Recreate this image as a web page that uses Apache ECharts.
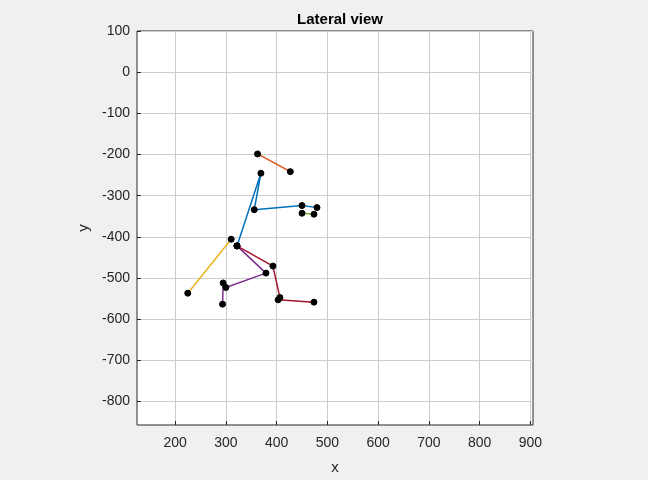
<!DOCTYPE html>
<html>
<head>
<meta charset="utf-8">
<script src="https://cdn.jsdelivr.net/npm/echarts@6/dist/echarts.min.js"></script>
<style>html,body{margin:0;padding:0;background:#F0F0F0;}#c{width:648px;height:480px;}</style>
</head>
<body>
<div id="c"></div>
<script>
var xTicks = [200, 300, 400, 500, 600, 700, 800, 900];
var yTicks = [100, 0, -100, -200, -300, -400, -500, -600, -700, -800];

var blueLine   = [[322, -422], [369, -245.5], [356, -334], [450, -324], [479.5, -329]];
var orangeLine = [[362.5, -198.6], [427, -241.6]];
var yellowLine = [[310.5, -405.7], [225, -536.8]];
var purpleLine = [[322, -422], [379, -488], [300, -523], [294.7, -512], [293.5, -563.5]];
var greenLine  = [[450, -342.6], [473.6, -345]];
var redLine    = [[322, -422], [392.7, -471], [406.5, -547.5], [403, -553], [473.6, -558.6]];

var lines = [
  {data: blueLine, color: '#0072BD'},
  {data: orangeLine, color: '#D95319'},
  {data: yellowLine, color: '#EDB120'},
  {data: purpleLine, color: '#7E2F8E'},
  {data: greenLine, color: '#77AC30'},
  {data: redLine, color: '#A2142F'}
];

var font = 'Liberation Sans, Arial, sans-serif';
var series = lines.map(function (l) {
  return {
    type: 'line', data: l.data, symbol: 'circle', symbolSize: 6,
    lineStyle: {color: l.color, width: 1.5},
    itemStyle: {color: '#000000', borderColor: '#000000'},
    animation: false, z: 3
  };
});

var chart = echarts.init(document.getElementById('c'));
chart.setOption({
  backgroundColor: '#F0F0F0',
  animation: false,
  title: {text: 'Lateral view', left: 335, top: 7, textAlign: 'center',
    textStyle: {fontFamily: font, fontSize: 15, fontWeight: 'bold', color: '#000'}},
  grid: {left: 137, right: 115, top: 31, bottom: 55, show: true,
    backgroundColor: '#FFFFFF', borderColor: '#262626', borderWidth: 1},
  xAxis: {
    type: 'value', min: 125, max: 905,
    name: 'x', nameLocation: 'middle', nameGap: 35,
    nameTextStyle: {fontFamily: font, fontSize: 15, color: '#262626'},
    axisLine: {show: false, onZero: false},
    axisTick: {show: true, inside: true, length: 4, customValues: xTicks, lineStyle: {color: '#262626'}},
    axisLabel: {customValues: xTicks, fontFamily: font, fontSize: 14, color: '#262626', margin: 11},
    splitLine: {show: true, lineStyle: {color: '#CDCDCD', width: 1}}
  },
  yAxis: {
    type: 'value', min: -857, max: 100,
    name: 'y', nameLocation: 'middle', nameGap: 40, nameRotate: 90,
    nameTextStyle: {fontFamily: font, fontSize: 15, color: '#262626'},
    axisLine: {show: false, onZero: false},
    axisTick: {show: true, inside: true, length: 4, customValues: yTicks, lineStyle: {color: '#262626'}},
    axisLabel: {customValues: yTicks, fontFamily: font, fontSize: 14, color: '#262626', margin: 7},
    splitLine: {show: true, lineStyle: {color: '#CDCDCD', width: 1}}
  },
  series: series
});
</script>
</body>
</html>
